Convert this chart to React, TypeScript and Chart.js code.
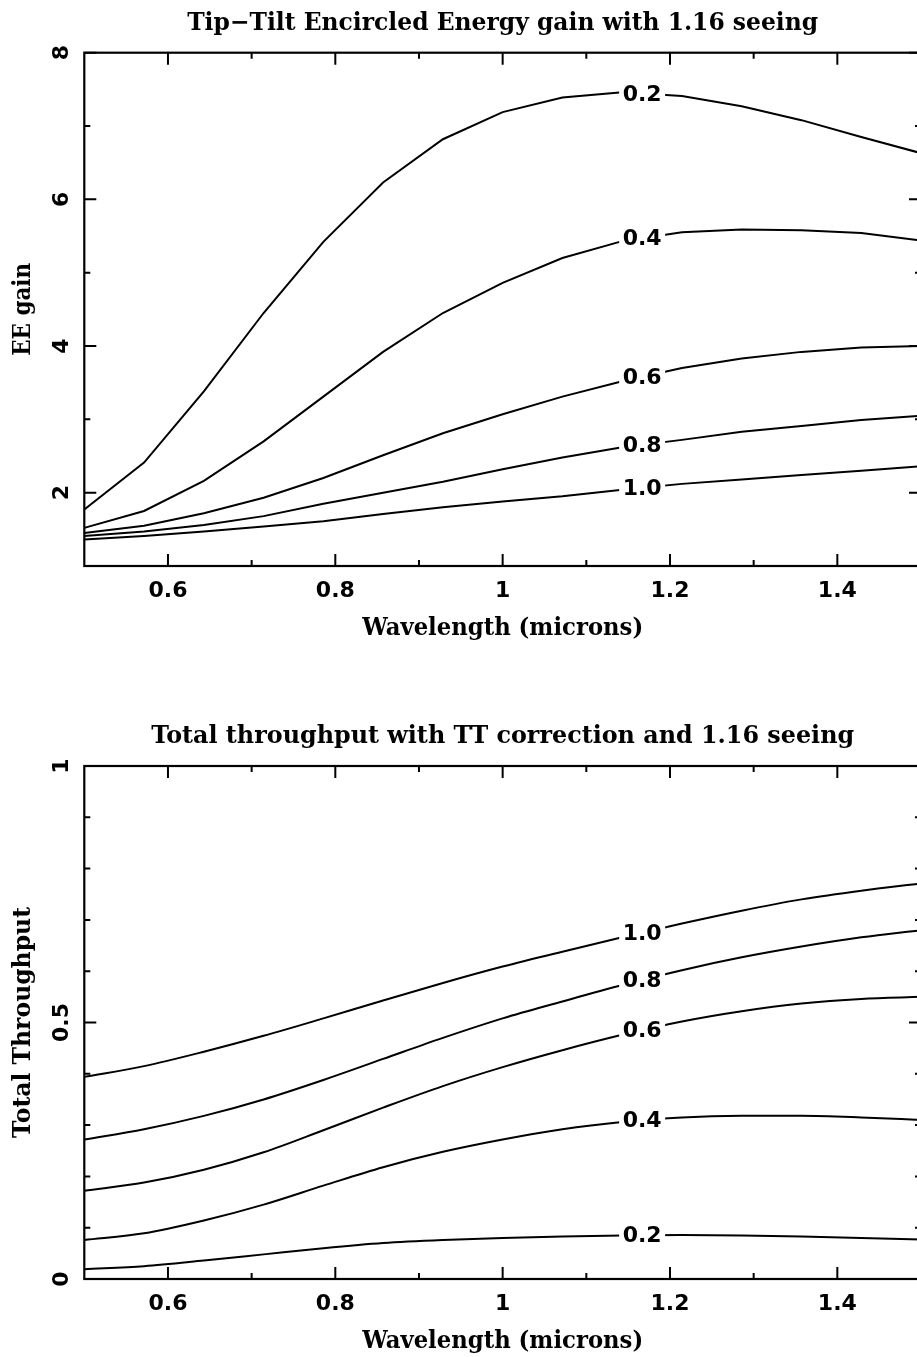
import React, { useEffect, useRef } from 'react';
import { Chart, registerables } from 'chart.js';

Chart.register(...registerables);

// ---------- data ----------
const WAVELENGTH = [0.5, 0.5714, 0.6429, 0.7143, 0.7857, 0.8571, 0.9286, 1.0, 1.0714, 1.1429, 1.2143, 1.2857, 1.3571, 1.4286, 1.5];
const LEVELS = ['0.2', '0.4', '0.6', '0.8', '1.0'];

const EE_02 = [1.77, 2.41, 3.38, 4.45, 5.42, 6.23, 6.82, 7.19, 7.39, 7.46, 7.41, 7.27, 7.08, 6.85, 6.63];
const EE_04 = [1.52, 1.75, 2.16, 2.7, 3.31, 3.92, 4.45, 4.86, 5.2, 5.43, 5.55, 5.59, 5.58, 5.54, 5.44];
const EE_06 = [1.45, 1.55, 1.72, 1.93, 2.2, 2.51, 2.81, 3.07, 3.31, 3.52, 3.7, 3.83, 3.92, 3.98, 4.0];
const EE_08 = [1.41, 1.47, 1.56, 1.68, 1.85, 2.0, 2.15, 2.32, 2.48, 2.62, 2.72, 2.83, 2.91, 2.99, 3.05];
const EE_10 = [1.36, 1.41, 1.47, 1.54, 1.61, 1.71, 1.8, 1.88, 1.95, 2.04, 2.12, 2.18, 2.24, 2.3, 2.36];

const TP_02 = [0.019, 0.025, 0.036, 0.048, 0.06, 0.07, 0.076, 0.08, 0.083, 0.085, 0.086, 0.085, 0.083, 0.08, 0.077];
const TP_04 = [0.076, 0.089, 0.114, 0.145, 0.182, 0.218, 0.248, 0.272, 0.292, 0.306, 0.315, 0.318, 0.318, 0.315, 0.31];
const TP_06 = [0.172, 0.188, 0.213, 0.247, 0.29, 0.334, 0.376, 0.413, 0.446, 0.476, 0.502, 0.522, 0.537, 0.546, 0.55];
const TP_08 = [0.272, 0.292, 0.318, 0.35, 0.388, 0.429, 0.47, 0.508, 0.541, 0.573, 0.602, 0.627, 0.648, 0.666, 0.68];
const TP_10 = [0.394, 0.415, 0.443, 0.474, 0.508, 0.543, 0.577, 0.609, 0.638, 0.666, 0.693, 0.718, 0.74, 0.757, 0.771];

const X_MAJOR = [0.6, 0.8, 1.0, 1.2, 1.4];
const X_MAJOR_LABELS = ['0.6', '0.8', '1', '1.2', '1.4'];
const X_MINOR = [0.7, 0.9, 1.1, 1.3];

const EE_MAJOR = [2, 4, 6, 8];
const EE_MAJOR_LABELS = ['2', '4', '6', '8'];
const EE_MINOR = [3, 5, 7];

const TP_MAJOR = [0, 0.5, 1];
const TP_MAJOR_LABELS = ['0', '0.5', '1'];
const TP_MINOR = [0.1, 0.2, 0.3, 0.4, 0.6, 0.7, 0.8, 0.9];

const LABEL_X = 1.1667;

const TOP_TITLE = 'Tip\u2212Tilt Encircled Energy gain with 1.16 seeing';
const BOTTOM_TITLE = 'Total throughput with TT correction and 1.16 seeing';
const X_TITLE = 'Wavelength (microns)';
const TOP_Y_TITLE = 'EE gain';
const BOTTOM_Y_TITLE = 'Total Throughput';

// ---------- layout ----------
const CANVAS_W = 940;
const SERIF = 'bold 24px "DejaVu Serif", serif';
const SANS = 'bold 22px "DejaVu Sans", sans-serif';

function fitText(ctx: CanvasRenderingContext2D, text: string, x: number, y: number, targetW: number, rot = 0) {
  ctx.save();
  ctx.font = SERIF;
  const w = ctx.measureText(text).width;
  ctx.translate(x, y);
  if (rot) ctx.rotate(rot);
  ctx.scale(targetW / w, 1);
  ctx.textAlign = 'center';
  ctx.textBaseline = 'alphabetic';
  ctx.fillStyle = '#000';
  ctx.fillText(text, 0, 0);
  ctx.restore();
}

type Spec = {
  top: number;
  height: number;
  pad: { left: number; right: number; top: number; bottom: number };
  series: number[][];
  yMin: number;
  yMax: number;
  yMajor: number[];
  yMajorLabels: string[];
  yMinor: number[];
  title: string;
  titleW: number;
  yTitle: string;
  yTitleW: number;
  smooth: boolean;
};

function makePlugin(spec: Spec) {
  return {
    id: 'pgDecor',
    afterDatasetsDraw(chart: any) {
      const ctx: CanvasRenderingContext2D = chart.ctx;
      const xs = chart.scales.x;
      const px = xs.getPixelForValue(LABEL_X);
      chart.data.datasets.forEach((ds: any, i: number) => {
        const pts = chart.getDatasetMeta(i).data;
        let py = pts[0].y;
        for (let k = 0; k < pts.length - 1; k++) {
          if (pts[k].x <= px && pts[k + 1].x >= px) {
            const t = (px - pts[k].x) / (pts[k + 1].x - pts[k].x);
            py = pts[k].y + t * (pts[k + 1].y - pts[k].y);
          }
        }
        ctx.save();
        ctx.fillStyle = '#fff';
        ctx.fillRect(px - 23, py - 11, 46, 22);
        ctx.fillStyle = '#000';
        ctx.font = SANS;
        ctx.textAlign = 'center';
        ctx.textBaseline = 'alphabetic';
        ctx.fillText(ds.label, px, py + 7);
        ctx.restore();
      });
    },
    afterDraw(chart: any) {
      const ctx: CanvasRenderingContext2D = chart.ctx;
      const { left, right, top, bottom } = chart.chartArea;
      const xs = chart.scales.x;
      const ys = chart.scales.y;
      ctx.save();
      ctx.strokeStyle = '#000';
      ctx.lineWidth = 2.2;
      ctx.lineCap = 'butt';
      ctx.strokeRect(left, top, right - left, bottom - top);
      ctx.lineWidth = 2;
      const tickX = (v: number, len: number) => {
        const p = xs.getPixelForValue(v);
        ctx.beginPath();
        ctx.moveTo(p, bottom); ctx.lineTo(p, bottom - len);
        ctx.moveTo(p, top); ctx.lineTo(p, top + len);
        ctx.stroke();
      };
      const tickY = (v: number, len: number) => {
        const p = ys.getPixelForValue(v);
        ctx.beginPath();
        ctx.moveTo(left, p); ctx.lineTo(left + len, p);
        ctx.moveTo(right, p); ctx.lineTo(right - len, p);
        ctx.stroke();
      };
      X_MAJOR.forEach((v) => tickX(v, 12));
      X_MINOR.forEach((v) => tickX(v, 6));
      spec.yMajor.forEach((v) => tickY(v, 12));
      spec.yMinor.forEach((v) => tickY(v, 6));

      ctx.fillStyle = '#000';
      ctx.font = SANS;
      ctx.textAlign = 'center';
      ctx.textBaseline = 'alphabetic';
      X_MAJOR.forEach((v, i) => {
        ctx.fillText(X_MAJOR_LABELS[i], xs.getPixelForValue(v), bottom + 31);
      });
      spec.yMajor.forEach((v, i) => {
        ctx.save();
        ctx.translate(left - 16.5, ys.getPixelForValue(v));
        ctx.rotate(-Math.PI / 2);
        ctx.fillText(spec.yMajorLabels[i], 0, 0);
        ctx.restore();
      });
      ctx.restore();

      const cx = (left + right) / 2;
      fitText(ctx, spec.title, cx, top - 23, spec.titleW);
      fitText(ctx, X_TITLE, cx, bottom + 69, 281);
      fitText(ctx, spec.yTitle, 30, (top + bottom) / 2, spec.yTitleW, -Math.PI / 2);
    },
  };
}

function Panel({ spec }: { spec: Spec }) {
  const ref = useRef<HTMLCanvasElement>(null);
  useEffect(() => {
    const canvas = ref.current;
    if (!canvas) return;
    const datasets = spec.series.map((vals, i) => ({
      label: LEVELS[i],
      data: WAVELENGTH.map((x, j) => ({ x, y: vals[j] })),
      borderColor: '#000',
      borderWidth: 2,
      pointRadius: 0,
      fill: false,
      tension: 0,
      cubicInterpolationMode: spec.smooth ? ('monotone' as const) : ('default' as const),
    }));
    const chart = new Chart(canvas, {
      type: 'line',
      data: { datasets },
      options: {
        animation: false,
        responsive: false,
        devicePixelRatio: 1,
        layout: { padding: spec.pad },
        plugins: { legend: { display: false }, tooltip: { enabled: false }, title: { display: false } },
        events: [],
        scales: {
          x: { type: 'linear', min: 0.5, max: 1.5, display: false },
          y: { type: 'linear', min: spec.yMin, max: spec.yMax, display: false },
        },
      },
      plugins: [makePlugin(spec)],
    } as any);
    return () => chart.destroy();
  }, [spec]);
  return (
    <canvas
      ref={ref}
      width={CANVAS_W}
      height={spec.height}
      style={{ position: 'absolute', left: 0, top: spec.top, width: CANVAS_W, height: spec.height, display: 'block' }}
    />
  );
}

const TOP_SPEC: Spec = {
  top: 0,
  height: 680,
  pad: { left: 84.3, right: CANVAS_W - 921, top: 52.7, bottom: 680 - 566 },
  series: [EE_02, EE_04, EE_06, EE_08, EE_10],
  yMin: 1,
  yMax: 8,
  yMajor: EE_MAJOR,
  yMajorLabels: EE_MAJOR_LABELS,
  yMinor: EE_MINOR,
  title: TOP_TITLE,
  titleW: 631,
  yTitle: TOP_Y_TITLE,
  yTitleW: 93,
  smooth: false,
};

const BOTTOM_SPEC: Spec = {
  top: 680,
  height: 677,
  pad: { left: 84.3, right: CANVAS_W - 921, top: 86, bottom: 677 - 599 },
  series: [TP_02, TP_04, TP_06, TP_08, TP_10],
  yMin: 0,
  yMax: 1,
  yMajor: TP_MAJOR,
  yMajorLabels: TP_MAJOR_LABELS,
  yMinor: TP_MINOR,
  title: BOTTOM_TITLE,
  titleW: 703,
  yTitle: BOTTOM_Y_TITLE,
  yTitleW: 231,
  smooth: true,
};

export default function App() {
  return (
    <div
      style={{
        position: 'absolute',
        left: 0,
        top: 0,
        width: 917,
        height: 1357,
        overflow: 'hidden',
        background: '#fff',
      }}
    >
      <Panel spec={TOP_SPEC} />
      <Panel spec={BOTTOM_SPEC} />
    </div>
  );
}
